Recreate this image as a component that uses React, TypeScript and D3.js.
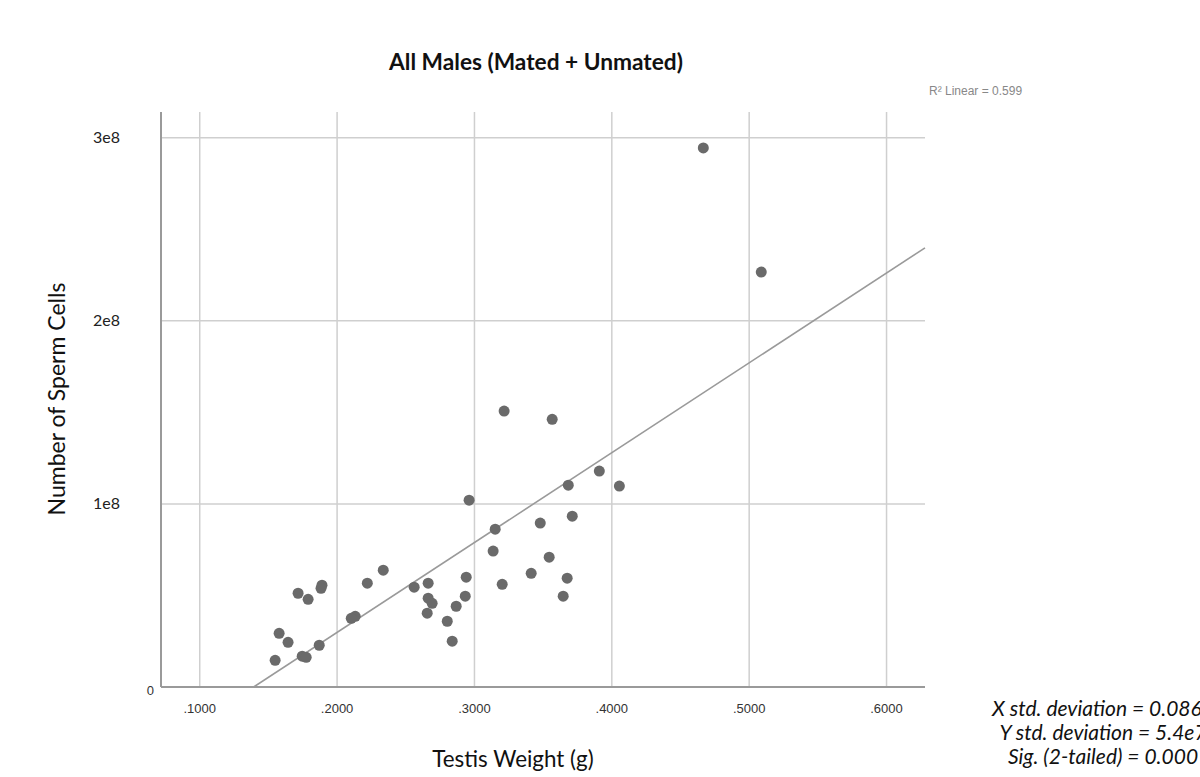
import React, { useEffect, useRef } from "react";
import * as d3 from "d3";

// testis weight (g) and sperm count
const weights = [
  0.4666, 0.5088, 0.3216, 0.3566, 0.3909, 0.3683, 0.4055, 0.2961, 0.3479, 0.3712,
  0.3151, 0.3136, 0.3544, 0.3413, 0.3675, 0.3202, 0.3646, 0.294, 0.2933, 0.2867,
  0.2802, 0.2838, 0.2663, 0.2663, 0.2692, 0.2656, 0.2561, 0.2336, 0.222, 0.2132,
  0.2103, 0.189, 0.1883, 0.1716, 0.1789, 0.187, 0.1578, 0.1643, 0.1549, 0.1746,
  0.1775,
];
const spermCounts = [
  2.944e8, 2.266e8, 1.507e8, 1.462e8, 1.179e8, 1.102e8, 1.097e8, 1.02e8, 0.895e8, 0.933e8,
  0.862e8, 0.742e8, 0.709e8, 0.621e8, 0.594e8, 0.561e8, 0.496e8, 0.6e8, 0.496e8, 0.441e8,
  0.359e8, 0.25e8, 0.567e8, 0.485e8, 0.457e8, 0.403e8, 0.545e8, 0.638e8, 0.567e8, 0.386e8,
  0.375e8, 0.556e8, 0.539e8, 0.512e8, 0.479e8, 0.228e8, 0.293e8, 0.244e8, 0.146e8, 0.168e8,
  0.162e8,
];

const xTicks = [0.1, 0.2, 0.3, 0.4, 0.5, 0.6];
const xTickLabels = [".1000", ".2000", ".3000", ".4000", ".5000", ".6000"];
const yTicks = [1e8, 2e8, 3e8];
const yTickLabels = ["1e8", "2e8", "3e8"];

const title = "All Males (Mated + Unmated)";
const rSquaredLabel = "R² Linear = 0.599";
const statsLines = [
  "X std. deviation = 0.0862",
  "Y std. deviation = 5.4e7",
  "Sig. (2-tailed) = 0.000",
];

const App = () => {
  const ref = useRef<SVGSVGElement | null>(null);

  useEffect(() => {
    const width = 1200;
    const height = 777;
    const svg = d3.select(ref.current);
    svg.selectAll("*").remove();

    const left = 161;
    const right = 925;
    const top = 112;
    const bottom = 687;

    const x = d3.scaleLinear().domain([0.0718, 0.628]).range([left, right]);
    const y = d3.scaleLinear().domain([0, 3.14e8]).range([bottom, top]);

    const data = weights.map((w, i) => ({ w, c: spermCounts[i] }));

    // grid
    svg
      .append("g")
      .selectAll("line")
      .data(xTicks)
      .join("line")
      .attr("x1", (d) => x(d))
      .attr("x2", (d) => x(d))
      .attr("y1", top)
      .attr("y2", bottom)
      .attr("stroke", "#cfcfcf")
      .attr("stroke-width", 1.5);

    svg
      .append("g")
      .selectAll("line")
      .data(yTicks)
      .join("line")
      .attr("x1", left)
      .attr("x2", right)
      .attr("y1", (d) => y(d))
      .attr("y2", (d) => y(d))
      .attr("stroke", "#cfcfcf")
      .attr("stroke-width", 1.5);

    // axes lines
    svg
      .append("line")
      .attr("x1", left)
      .attr("x2", left)
      .attr("y1", top)
      .attr("y2", bottom)
      .attr("stroke", "#9a9a9a")
      .attr("stroke-width", 2);
    svg
      .append("line")
      .attr("x1", left)
      .attr("x2", right)
      .attr("y1", bottom)
      .attr("y2", bottom)
      .attr("stroke", "#9a9a9a")
      .attr("stroke-width", 2);

    // tick labels
    svg
      .append("g")
      .selectAll("text")
      .data(xTicks)
      .join("text")
      .attr("x", (d) => x(d))
      .attr("y", 713)
      .attr("text-anchor", "middle")
      .attr("font-family", "Liberation Sans, Arial, sans-serif")
      .attr("font-size", 13)
      .attr("fill", "#333")
      .text((d, i) => xTickLabels[i]);

    svg
      .append("g")
      .selectAll("text")
      .data(yTicks)
      .join("text")
      .attr("x", 120)
      .attr("y", (d) => y(d) + 5)
      .attr("text-anchor", "end")
      .attr("font-family", "Lato, sans-serif")
      .attr("font-size", 16)
      .attr("fill", "#222")
      .text((d, i) => yTickLabels[i]);

    svg
      .append("text")
      .attr("x", 154)
      .attr("y", y(0) + 8)
      .attr("text-anchor", "end")
      .attr("font-family", "Liberation Sans, Arial, sans-serif")
      .attr("font-size", 13)
      .attr("fill", "#333")
      .text("0");

    // least squares fit line
    const mx = d3.mean(data, (d) => d.w) as number;
    const my = d3.mean(data, (d) => d.c) as number;
    const sxy = d3.sum(data, (d) => (d.w - mx) * (d.c - my));
    const sxx = d3.sum(data, (d) => (d.w - mx) ** 2);
    const slope = sxy / sxx;
    const intercept = my - slope * mx;
    const x0 = Math.max(x.domain()[0], -intercept / slope);
    const x1 = x.domain()[1];

    svg
      .append("line")
      .attr("x1", x(x0))
      .attr("y1", y(intercept + slope * x0))
      .attr("x2", x(x1))
      .attr("y2", y(intercept + slope * x1))
      .attr("stroke", "#9a9a9a")
      .attr("stroke-width", 1.6);

    // points
    svg
      .append("g")
      .selectAll("circle")
      .data(data)
      .join("circle")
      .attr("cx", (d) => x(d.w))
      .attr("cy", (d) => y(d.c))
      .attr("r", 5.5)
      .attr("fill", "#6a6a6a");

    // titles
    svg
      .append("text")
      .attr("x", 536)
      .attr("y", 70)
      .attr("text-anchor", "middle")
      .attr("font-family", "Lato, sans-serif")
      .attr("font-weight", "bold")
      .attr("font-size", 22.7)
      .attr("fill", "#111")
      .text(title);

    svg
      .append("text")
      .attr("x", 929)
      .attr("y", 95)
      .attr("font-family", "Liberation Sans, Arial, sans-serif")
      .attr("font-size", 12)
      .attr("fill", "#888")
      .text(rSquaredLabel);

    svg
      .append("text")
      .attr("x", 513)
      .attr("y", 767)
      .attr("text-anchor", "middle")
      .attr("font-family", "Lato, sans-serif")
      .attr("font-size", 22.4)
      .attr("fill", "#111")
      .text("Testis Weight (g)");

    svg
      .append("text")
      .attr("transform", `translate(65,${399}) rotate(-90)`)
      .attr("text-anchor", "middle")
      .attr("font-family", "Lato, sans-serif")
      .attr("font-size", 23)
      .attr("fill", "#111")
      .text("Number of Sperm Cells");

    svg
      .append("g")
      .selectAll("text")
      .data(statsLines)
      .join("text")
      .attr("x", 1103)
      .attr("y", (d, i) => 716 + i * 24)
      .attr("text-anchor", "middle")
      .attr("font-family", "Lato, sans-serif")
      .attr("font-style", "italic")
      .attr("font-size", 21)
      .attr("fill", "#111")
      .text((d) => d);

    svg.attr("width", width).attr("height", height);
  }, []);

  return (
    <svg
      ref={ref}
      width={1200}
      height={777}
      style={{ position: "absolute", left: 0, top: 0, background: "#fff" }}
    />
  );
};

export default App;
